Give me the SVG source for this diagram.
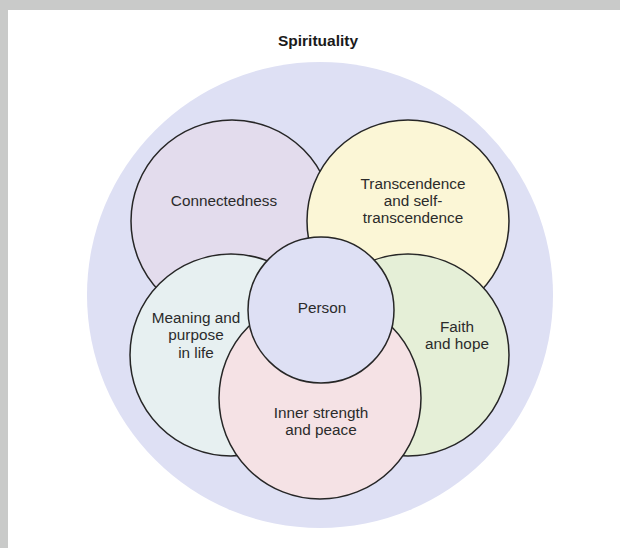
<svg xmlns="http://www.w3.org/2000/svg" width="620" height="548" viewBox="0 0 620 548">
<style>
.c{stroke:#262626;stroke-width:1.5}
.t{font-family:"Liberation Sans",Arial,sans-serif;font-size:15.3px;fill:#2b2b2b;text-anchor:middle}
.h{font-family:"Liberation Sans",Arial,sans-serif;font-size:15.5px;font-weight:bold;fill:#1a1a1a;text-anchor:middle}
</style>
<rect x="0" y="0" width="620" height="548" fill="#c9cac9"/>
<rect x="8" y="10" width="612" height="538" fill="#ffffff"/>
<text class="h" x="318" y="46">Spirituality</text>
<g id="spirituality"><circle cx="320" cy="295" r="233" fill="#dee0f4"/></g>
<g id="connectedness"><circle class="c" cx="232" cy="221" r="101" fill="#e3dced"/><text class="t" x="224" y="206">Connectedness</text></g>
<g id="transcendence"><circle class="c" cx="408" cy="221" r="101" fill="#fbf6d6"/><text class="t" x="413" y="189">Transcendence</text><text class="t" x="413" y="206">and self-</text><text class="t" x="413" y="223">transcendence</text></g>
<g id="meaning"><circle class="c" cx="231" cy="355" r="101" fill="#e7f0f1"/><text class="t" x="196" y="323">Meaning and</text><text class="t" x="196" y="340">purpose</text><text class="t" x="196" y="358">in life</text></g>
<g id="faith"><circle class="c" cx="408" cy="355" r="101" fill="#e5efd7"/><text class="t" x="457" y="332">Faith</text><text class="t" x="457" y="349">and hope</text></g>
<g id="inner"><circle class="c" cx="320" cy="398" r="101" fill="#f5e2e5"/><text class="t" x="321" y="418">Inner strength</text><text class="t" x="321" y="435">and peace</text></g>
<g id="person"><circle class="c" cx="321" cy="310" r="73" fill="#dee0f4"/><text class="t" x="322" y="313">Person</text></g>
<g id="connectors"></g>
</svg>
